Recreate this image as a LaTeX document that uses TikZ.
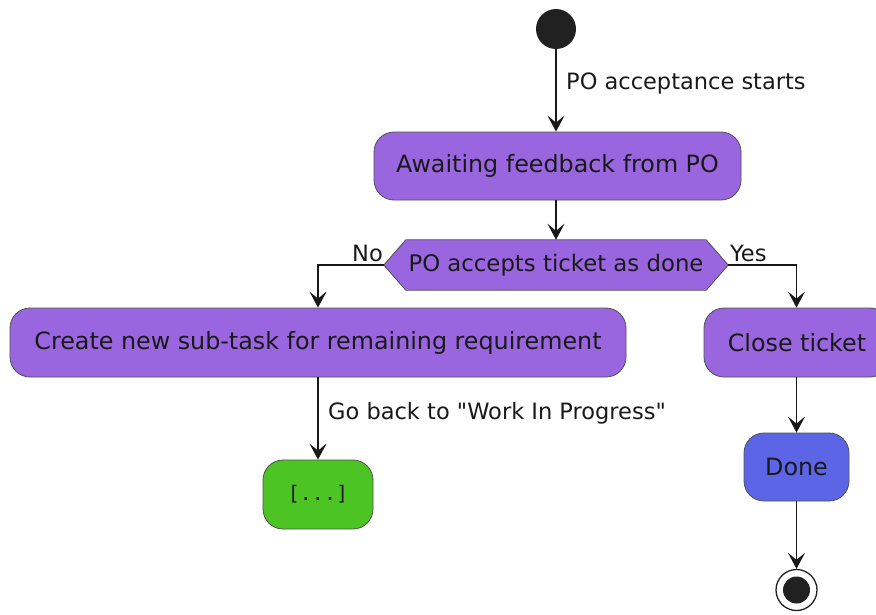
\documentclass[tikz,border=0pt]{standalone}
\usepackage{fontspec}
\setmainfont{DejaVu Sans}[Ligatures=TeXOff]
\setmonofont{DejaVu Sans Mono}
\usetikzlibrary{arrows.meta,backgrounds}
\definecolor{actpurple}{RGB}{154,102,224}
\definecolor{actgreen}{RGB}{76,196,36}
\definecolor{actblue}{RGB}{91,101,230}
\definecolor{lineclr}{RGB}{24,24,24}
\definecolor{bordclr}{RGB}{80,80,80}
\tikzset{
  x=1pt, y=-1pt,
  act/.style={draw=bordclr, line width=0.8pt, fill=actpurple, rounded corners=20pt,
    minimum height=68pt, inner sep=0pt, font=\fontsize{23.8}{28}\selectfont, text=black!90},
  flow/.style={draw=lineclr, line width=1.3pt, -{Stealth[length=16pt,width=17pt,inset=7pt]}},
  elabel/.style={font=\fontsize{22.5}{26}\selectfont, text=black!90, inner sep=0pt},
}
\begin{document}
\begin{tikzpicture}
\useasboundingbox (0,0) rectangle (876,614);
% start
\node[circle, fill=black!87, minimum size=40pt, inner sep=0pt] (start) at (556,29) {};
% activities
\node[act, minimum width=367pt] (await) at (557.5,166) {Awaiting feedback from PO};
\node[draw=none, minimum width=344pt, minimum height=50pt, inner sep=0pt,
      font=\fontsize{22.8}{26}\selectfont, text=black!90] (dec) at (556,265) {PO accepts ticket as done};
\begin{scope}[on background layer]
\draw[draw=bordclr, line width=0.8pt, fill=actpurple]
  (dec.west) -- ([xshift=22pt]dec.north west) -- ([xshift=-22pt]dec.north east)
  -- (dec.east) -- ([xshift=-22pt]dec.south east) -- ([xshift=22pt]dec.south west) -- cycle;
\end{scope}
\node[act, minimum width=616pt, minimum height=69pt] (create) at (318,342.5) {Create new sub-task for remaining requirement};
\node[act, minimum width=186pt, minimum height=69pt] (close) at (797,342.5) {Close ticket};
\node[act, fill=actgreen, minimum width=110pt, minimum height=69pt,
      font=\ttfamily\fontsize{20}{24}\selectfont] (blank) at (318,494.5) {[...]};
\node[act, fill=actblue, minimum width=105pt] (done) at (796.5,467) {Done};
% end
\node[circle, draw=black!87, line width=1.3pt, fill=white, minimum size=41pt, inner sep=0pt] (end) at (796.5,590) {};
\fill[black!87] (end.center) circle (13.5pt);
% connectors
\draw[flow] (start) -- (await.north -| start);
\draw[flow] (await.south -| start) -- (dec.north);
\draw[flow] (dec.west) -| (create.north);
\draw[flow] (dec.east) -| (close.north -| done);
\draw[flow] (create.south) -- (blank.north);
\draw[flow] (close.south -| done) -- (done.north);
\draw[flow] (done.south) -- (end.north);
% labels
\node[elabel, anchor=west] (l1) at (566,83) {PO acceptance starts};
\node[elabel, anchor=south east] (lno) at (383,262) {No};
\node[elabel, anchor=south west] (lyes) at (730,262) {Yes};
\node[elabel, anchor=west] (l2) at (328,413) {Go back to "Work In Progress"};
\end{tikzpicture}
\end{document}
